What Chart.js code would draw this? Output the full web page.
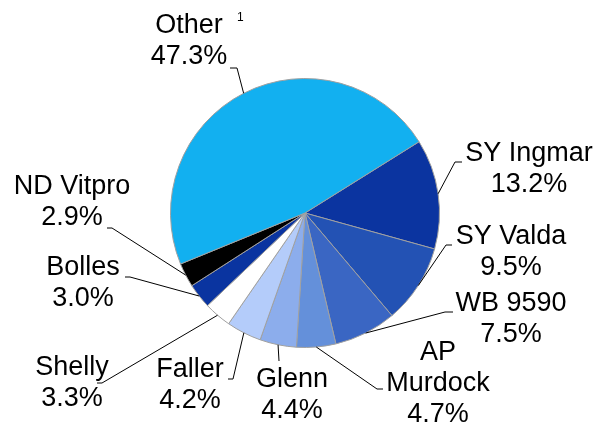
<!DOCTYPE html>
<html>
<head>
<meta charset="utf-8">
<script src="https://cdn.jsdelivr.net/npm/chart.js@4"></script>
<style>
  body { margin: 0; background: #fff; }
  #wrap { width: 612px; height: 427px; }
</style>
</head>
<body>
<div id="wrap"><canvas id="pie" width="612" height="427"></canvas></div>
<script>
// variety shares, clockwise starting at SY Ingmar
const varieties = ['SY Ingmar', 'SY Valda', 'WB 9590', 'AP Murdock', 'Glenn', 'Faller', 'Shelly', 'Bolles', 'ND Vitpro', 'Other'];
const shares = [13.2, 9.5, 7.5, 4.7, 4.4, 4.2, 3.3, 3.0, 2.9, 47.3];
const sliceColors = ['#0b34a0', '#2352b4', '#3a66c3', '#6490da', '#8cadec', '#b4ccfa', '#ffffff', '#0a34a0', '#000000', '#12b0f0'];

// where each label sits: text centre x, first baseline y, leader elbow, leader end
const labelLayout = [
    { lines: ['SY Ingmar'], cx: 529, y: 161, elbow: [455, 162], end: [462, 162] },
    { lines: ['SY Valda'], cx: 511, y: 244, elbow: [446, 245], end: [452, 245] },
    { lines: ['WB 9590'], cx: 511, y: 311, elbow: [445, 312], end: [453, 312] },
    { lines: ['AP', 'Murdock'], cx: 438, y: 360, elbow: [377, 389], end: [383, 389] },
    { lines: ['Glenn'], cx: 292, y: 387, elbow: [279, 361], end: [279, 361] },
    { lines: ['Faller'], cx: 190, y: 377, elbow: [233, 379], end: [228, 379] },
    { lines: ['Shelly'], cx: 72, y: 375, elbow: [102, 383], end: [97, 383] },
    { lines: ['Bolles'], cx: 83, y: 275, elbow: [130, 277], end: [125, 277] },
    { lines: ['ND Vitpro'], cx: 72, y: 194, elbow: [112, 228], end: [107, 228] },
    { lines: ['Other'], cx: 189, y: 33, elbow: [237, 68], end: [230, 68] }
];

const lineGap = 31;
const labelFont = '27px "Liberation Sans", Arial, sans-serif';

const outsideLabels = {
    id: 'outsideLabels',
    afterDraw(c) {
        let ctx = c.ctx;
        let arcs = c.getDatasetMeta(0).data;
        ctx.save();
        ctx.strokeStyle = '#000';
        ctx.lineWidth = 1;
        ctx.fillStyle = '#000';
        ctx.font = labelFont;
        ctx.textAlign = 'center';
        ctx.textBaseline = 'alphabetic';

        arcs.forEach((arc, i) => {
            let p = arc.getProps(['x', 'y', 'startAngle', 'endAngle', 'outerRadius'], true);
            let mid = (p.startAngle + p.endAngle) / 2;
            let ax = p.x + Math.cos(mid) * p.outerRadius;
            let ay = p.y + Math.sin(mid) * p.outerRadius;
            let lay = labelLayout[i];

            // leader line
            ctx.beginPath();
            ctx.moveTo(ax, ay);
            ctx.lineTo(lay.elbow[0], lay.elbow[1]);
            ctx.lineTo(lay.end[0], lay.end[1]);
            ctx.stroke();

            // name lines then the percentage
            let lines = lay.lines.concat([shares[i].toFixed(1) + '%']);
            lines.forEach((t, k) => {
                ctx.fillText(t, lay.cx, lay.y + k * lineGap);
            });
        });

        // footnote marker next to "Other"
        ctx.font = '12px "Liberation Sans", Arial, sans-serif';
        ctx.textAlign = 'left';
        ctx.fillText('1', 237, 21);
        ctx.restore();
    }
};

new Chart(document.getElementById('pie'), {
    type: 'pie',
    data: {
        labels: varieties,
        datasets: [{
            data: shares,
            backgroundColor: sliceColors,
            borderColor: '#a0a0a0',
            borderWidth: 1
        }]
    },
    options: {
        responsive: false,
        animation: false,
        rotation: 58,
        layout: { padding: { left: 170, right: 172, top: 78, bottom: 79 } },
        plugins: {
            legend: { display: false },
            tooltip: { enabled: false }
        }
    },
    plugins: [outsideLabels]
});
</script>
</body>
</html>
